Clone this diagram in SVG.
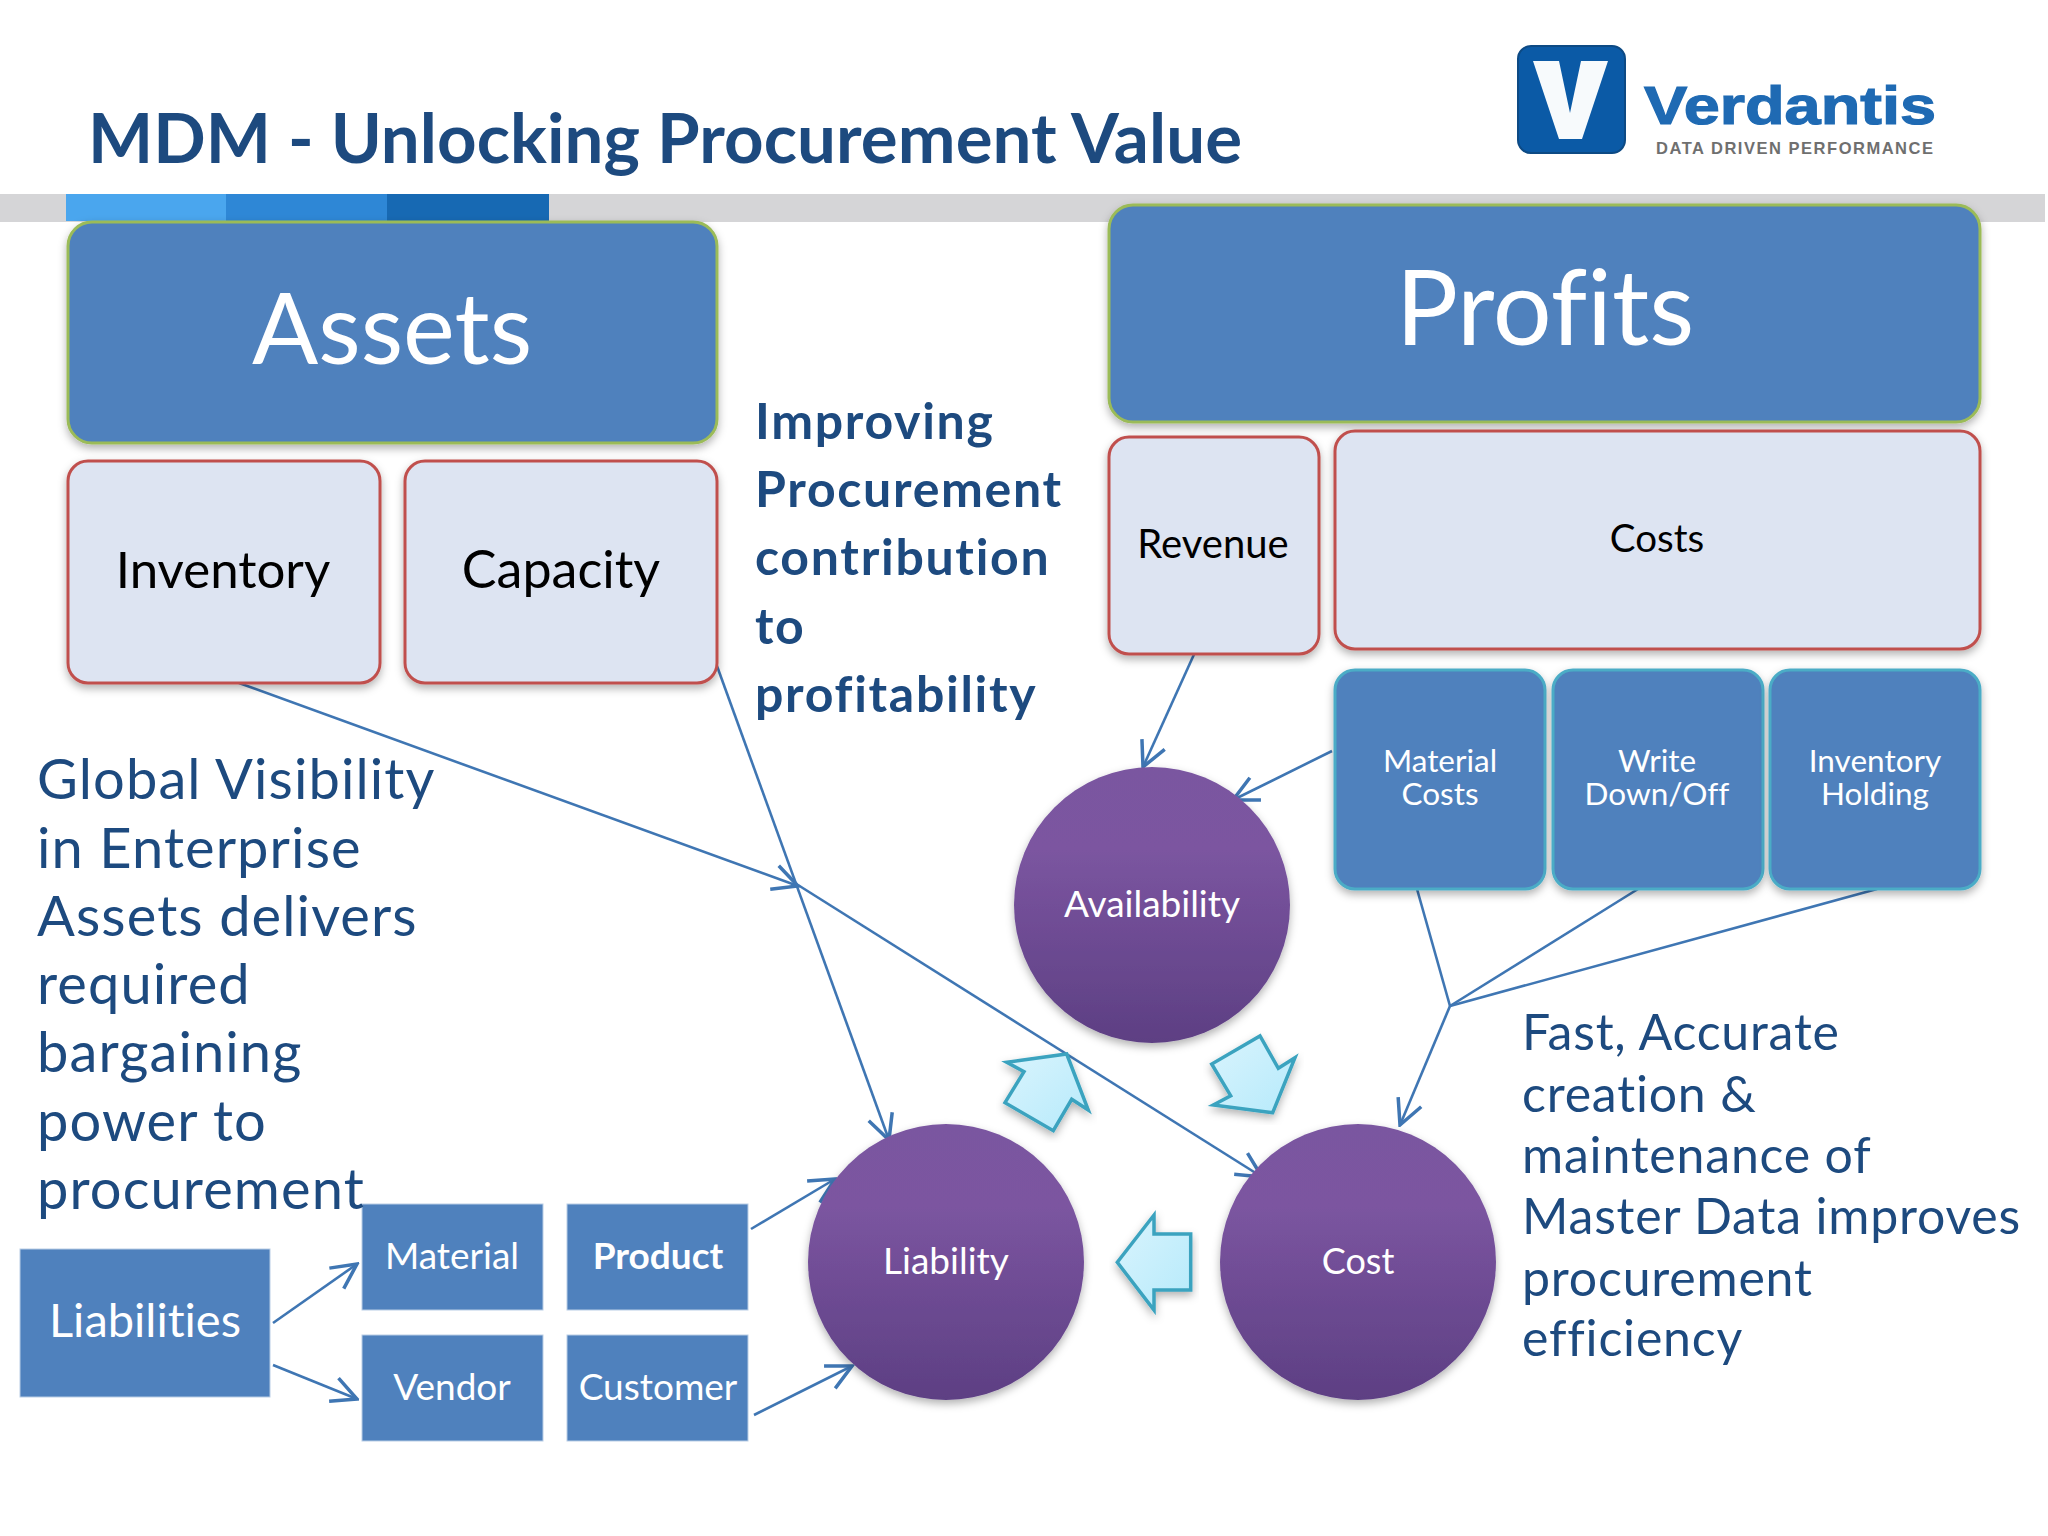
<svg xmlns="http://www.w3.org/2000/svg" width="2048" height="1536" viewBox="0 0 2048 1536">
<style>
text{font-family:"Lato","Open Sans","Noto Sans",sans-serif;font-variant-ligatures:none}
.c{text-anchor:middle}
.w{fill:#fff}
.k{fill:#000}
.n{fill:#1d4a7f}
.b{font-weight:700}
.big{fill:#4f81bd;stroke:#9bbb59;stroke-width:3;filter:url(#sh)}
.pale{fill:#dde4f2;stroke:#c0504d;stroke-width:3;filter:url(#sh)}
.teal{fill:#4f81bd;stroke:#4bacc6;stroke-width:3;filter:url(#sh)}
.sq{fill:#4f81bd;stroke:#b9cde5;stroke-width:1}
.circ{fill:url(#pu);filter:url(#sh)}
.blk{fill:url(#cy);stroke:#3ba3bf;stroke-width:3.5;stroke-linejoin:miter;filter:url(#sh)}
.cn{fill:none;stroke:#3f76b3;stroke-width:2.6}
.ar{marker-end:url(#v)}
</style>
<defs>
<linearGradient id="pu" x1="0" y1="0" x2="0" y2="1"><stop offset="0" stop-color="#7a56a0"/><stop offset=".3" stop-color="#7b55a0"/><stop offset="1" stop-color="#5d3f83"/></linearGradient>
<linearGradient id="cy" x1="0" y1="0" x2="1" y2="1"><stop offset="0" stop-color="#d9f4fd"/><stop offset="1" stop-color="#b6eafb"/></linearGradient>
<filter id="sh" x="-10%" y="-10%" width="120%" height="125%"><feDropShadow dx="0" dy="4" stdDeviation="4" flood-color="#000" flood-opacity=".3"/></filter>
<marker id="v" markerUnits="userSpaceOnUse" markerWidth="30" markerHeight="30" refX="22" refY="12" orient="auto" viewBox="0 0 24 24"><path d="M2 2 L22 12 L2 22" fill="none" stroke="#3f76b3" stroke-width="2.8"/></marker>
</defs>
<rect width="2048" height="1536" fill="#fff"/>
<g id="header">
<rect x="0" y="194" width="2045" height="28" fill="#d5d5d7"/>
<rect x="66" y="194" width="161" height="27" fill="#4aa6ee"/>
<rect x="226" y="194" width="161" height="27" fill="#2e87d6"/>
<rect x="387" y="194" width="162" height="27" fill="#1769b3"/>
<text id="title" x="88" y="163" class="n b" font-size="69" textLength="1154">MDM - Unlocking Procurement Value</text>
</g>
<g id="logo">
<rect x="1518" y="46" width="107" height="107" rx="13" fill="#0b5aa6" stroke="#0d4a84" stroke-width="2"/>
<path d="M1533 61H1559L1570 113L1581 61H1608L1582 139H1559Z" fill="#f7fafc"/>
<text x="1644" y="124" font-size="54" font-weight="700" fill="#1f6ab3" stroke="#1f6ab3" stroke-width="1.2" style="font-family:'Liberation Sans',sans-serif" textLength="292" lengthAdjust="spacingAndGlyphs">Verdantis</text>
<text x="1656" y="154" font-size="16.5" font-weight="700" fill="#6f6f6f" style="font-family:'Liberation Sans',sans-serif" textLength="277">DATA DRIVEN PERFORMANCE</text>
</g>
<g id="connectors">
<path class="cn ar" d="M239 683L798 886"/>
<path class="cn ar" d="M798 885L1262 1177"/>
<path class="cn ar" d="M717 666L889 1140"/>
<path class="cn ar" d="M1196 650L1143 767"/>
<path class="cn ar" d="M1332 751L1233 800"/>
<path class="cn" d="M1417 889L1450 1006"/>
<path class="cn" d="M1638 889L1450 1006"/>
<path class="cn" d="M1877 889L1450 1006"/>
<path class="cn ar" d="M1450 1006L1400 1125"/>
<path class="cn ar" d="M273 1323L357 1264"/>
<path class="cn ar" d="M273 1365L357 1399"/>
<path class="cn ar" d="M751 1229L835 1179"/>
<path class="cn ar" d="M754 1415L852 1366"/>
</g>
<g id="assets"><rect class="big" x="68" y="222" width="649" height="221" rx="24"/><text class="w c" x="392" y="364" font-size="98">Assets</text></g>
<g id="profits"><rect class="big" x="1109" y="205" width="871" height="217" rx="24"/><text class="w c" x="1545" y="345" font-size="104">Profits</text></g>
<g id="inventory"><rect class="pale" x="68" y="461" width="312" height="222" rx="20"/><text class="k c" x="223" y="588" font-size="51">Inventory</text></g>
<g id="capacity"><rect class="pale" x="405" y="461" width="312" height="222" rx="20"/><text class="k c" x="561" y="588" font-size="52">Capacity</text></g>
<g id="revenue"><rect class="pale" x="1109" y="437" width="210" height="217" rx="20"/><text class="k c" x="1213" y="558" font-size="40">Revenue</text></g>
<g id="costs"><rect class="pale" x="1335" y="431" width="645" height="218" rx="20"/><text class="k c" x="1657" y="552" font-size="38.5">Costs</text></g>
<g id="material-costs"><rect class="teal" x="1335" y="670" width="210" height="219" rx="20"/><text class="w c" font-size="31.5"><tspan x="1440" y="772">Material</tspan><tspan x="1440" y="805">Costs</tspan></text></g>
<g id="write-down"><rect class="teal" x="1553" y="670" width="210" height="219" rx="20"/><text class="w c" font-size="31.5"><tspan x="1657" y="772">Write</tspan><tspan x="1657" y="805">Down/Off</tspan></text></g>
<g id="inventory-holding"><rect class="teal" x="1770" y="670" width="210" height="219" rx="20"/><text class="w c" font-size="31.5"><tspan x="1875" y="772">Inventory</tspan><tspan x="1875" y="805">Holding</tspan></text></g>
<g id="availability"><circle class="circ" cx="1152" cy="905" r="138"/><text class="w c" x="1152" y="917" font-size="37">Availability</text></g>
<g id="liability"><circle class="circ" cx="946" cy="1262" r="138"/><text class="w c" x="946" y="1274" font-size="37">Liability</text></g>
<g id="cost"><circle class="circ" cx="1358" cy="1262" r="138"/><text class="w c" x="1358" y="1274" font-size="36">Cost</text></g>
<g id="block-arrows">
<polygon class="blk" points="1117.3,1262.3 1154,1215 1154,1234 1190.7,1234 1190.7,1290 1154,1290 1154,1310"/>
<polygon class="blk" points="1066.7,1054 1088.3,1110 1071.7,1099.3 1053.3,1130.7 1005,1102.7 1024,1071.7 1006.7,1062.3"/>
<polygon class="blk" points="1272.7,1112.7 1213.3,1105 1230.7,1095.7 1211.7,1064 1260,1036 1278.3,1068.3 1295,1057.7"/>
</g>
<g id="liabilities"><rect class="sq" x="20" y="1249" width="250" height="148"/><text class="w c" x="145" y="1337" font-size="47">Liabilities</text></g>
<g id="material"><rect class="sq" x="362" y="1204" width="181" height="106"/><text class="w c" x="452" y="1269" font-size="37">Material</text></g>
<g id="product"><rect class="sq" x="567" y="1204" width="181" height="106"/><text class="w c b" x="658" y="1269" font-size="37">Product</text></g>
<g id="vendor"><rect class="sq" x="362" y="1335" width="181" height="106"/><text class="w c" x="452" y="1400" font-size="37">Vendor</text></g>
<g id="customer"><rect class="sq" x="567" y="1335" width="181" height="106"/><text class="w c" x="658" y="1400" font-size="37">Customer</text></g>
<g id="text-improving" font-size="50" letter-spacing="1.7">
<text x="755" y="439" class="n b">Improving</text><text x="755" y="507" class="n b">Procurement</text><text x="755" y="575" class="n b">contribution</text><text x="755" y="644" class="n b">to</text><text x="755" y="712" class="n b">profitability</text>
</g>
<g id="text-global" font-size="56" letter-spacing="1.1">
<text x="37" y="799" class="n">Global Visibility</text><text x="37" y="868" class="n">in Enterprise</text><text x="37" y="936" class="n">Assets delivers</text><text x="37" y="1004" class="n">required</text><text x="37" y="1072" class="n">bargaining</text><text x="37" y="1141" class="n">power to</text><text x="37" y="1209" class="n">procurement</text>
</g>
<g id="text-fast" font-size="50" letter-spacing=".8">
<text x="1522" y="1050" class="n">Fast, Accurate</text><text x="1522" y="1112" class="n">creation &amp;</text><text x="1522" y="1173" class="n">maintenance of</text><text x="1522" y="1234" class="n">Master Data improves</text><text x="1522" y="1296" class="n">procurement</text><text x="1522" y="1356" class="n">efficiency</text>
</g>
</svg>
